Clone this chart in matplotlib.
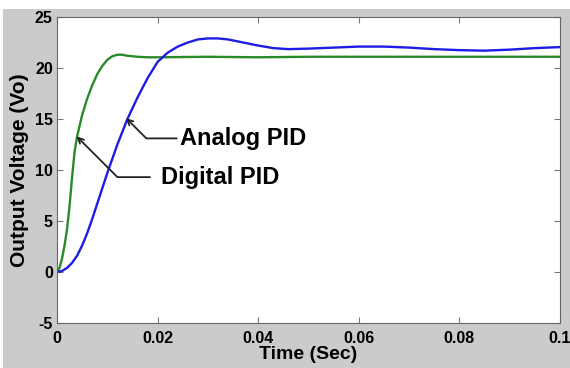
import matplotlib
matplotlib.use("Agg")
import matplotlib.pyplot as plt
from matplotlib.patches import Rectangle

plt.rcParams['font.family'] = ['Liberation Sans', 'DejaVu Sans']
plt.rcParams['axes.unicode_minus'] = False

# analog PID response (blue)
t_analog = [0, 0.001, 0.002, 0.003, 0.004, 0.005, 0.006, 0.007, 0.008, 0.009,
            0.010, 0.012, 0.014, 0.016, 0.018, 0.020, 0.022, 0.024, 0.026, 0.028,
            0.030, 0.032, 0.034, 0.036, 0.038, 0.040, 0.043, 0.046, 0.050, 0.055,
            0.060, 0.065, 0.070, 0.075, 0.080, 0.085, 0.090, 0.095, 0.100]
v_analog = [0, 0.1, 0.4, 0.9, 1.6, 2.6, 3.8, 5.2, 6.7, 8.2,
            9.7, 12.5, 15.0, 17.1, 19.0, 20.6, 21.5, 22.1, 22.5, 22.8,
            22.9, 22.9, 22.8, 22.6, 22.4, 22.2, 21.95, 21.85, 21.9, 22.0,
            22.1, 22.1, 22.0, 21.85, 21.75, 21.7, 21.8, 21.95, 22.05]

# digital PID response (green)
t_digital = [0, 0.0005, 0.001, 0.0015, 0.002, 0.0025, 0.003, 0.0035, 0.004, 0.005,
             0.006, 0.007, 0.008, 0.009, 0.010, 0.011, 0.012, 0.013, 0.014, 0.016,
             0.018, 0.020, 0.030, 0.040, 0.050, 0.060, 0.070, 0.080, 0.090, 0.100]
v_digital = [0, 0.4, 1.3, 2.6, 4.2, 6.5, 9.3, 11.8, 13.3, 15.4,
             17.0, 18.3, 19.4, 20.2, 20.8, 21.15, 21.3, 21.3, 21.2, 21.1,
             21.05, 21.05, 21.1, 21.05, 21.1, 21.1, 21.1, 21.1, 21.1, 21.1]

x_ticks = [0, 0.02, 0.04, 0.06, 0.08, 0.1]
x_tick_labels = ["0", "0.02", "0.04", "0.06", "0.08", "0.1"]
y_ticks = [-5, 0, 5, 10, 15, 20, 25]

fig = plt.figure(figsize=(5.7, 3.68), dpi=100, facecolor="white")
fig.patches.append(Rectangle((0.006, 0), 0.994, 0.975, transform=fig.transFigure,
                             facecolor="#cbcbcb", edgecolor="none", zorder=-10))
ax = fig.add_axes([0.1, 0.1223, 0.8825, 0.8315])

ax.plot(t_digital, v_digital, color="#2a8a2a", linewidth=1.7)
ax.plot(t_analog, v_analog, color="#1c1ce6", linewidth=1.7)

ax.set_xlim(0, 0.1)
ax.set_ylim(-5, 25)
ax.set_xticks(x_ticks)
ax.set_xticklabels(x_tick_labels)
ax.set_yticks(y_ticks)
ax.tick_params(direction="in", top=True, right=True, length=4, color="#777777",
               labelsize=11.5, width=0.8)
ax.tick_params(axis="x", pad=6)
ax.tick_params(axis="y", pad=3)
for lbl in ax.get_xticklabels() + ax.get_yticklabels():
    lbl.set_fontweight("bold")
for sp in ax.spines.values():
    sp.set_color("#666666")
    sp.set_linewidth(0.8)

ax.set_xlabel("Time (Sec)", fontsize=14, fontweight="bold", labelpad=0)
ax.set_ylabel("Output Voltage (Vo)", fontsize=15, fontweight="bold", labelpad=4)

arrow = dict(arrowstyle="->", color="#222222", lw=1.3, shrinkA=0, shrinkB=0,
             connectionstyle="angle,angleA=0,angleB=135,rad=0")
ax.annotate("", xy=(0.0137, 15.1), xytext=(0.0238, 13.1), arrowprops=arrow)
ax.text(0.0245, 13.1, "Analog PID", fontsize=17, fontweight="bold", va="center")
ax.annotate("", xy=(0.0039, 13.3), xytext=(0.0185, 9.3), arrowprops=arrow)
ax.text(0.0207, 9.3, "Digital PID", fontsize=17, fontweight="bold", va="center")

fig.savefig("out.png", dpi=100, facecolor=fig.get_facecolor())
